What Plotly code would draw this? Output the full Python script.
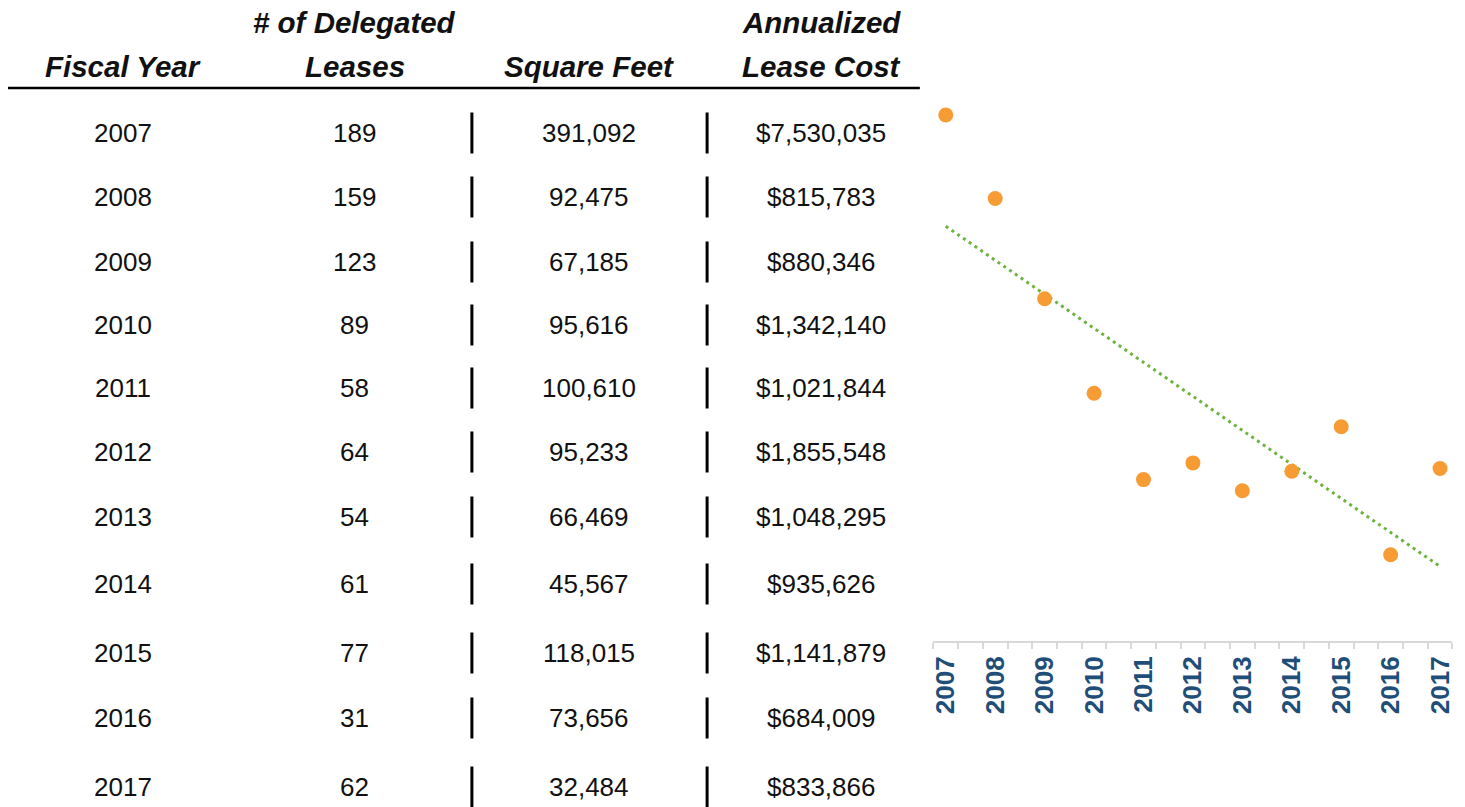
import numpy as np
import plotly.graph_objects as go

# ---- data ----
years = [2007, 2008, 2009, 2010, 2011, 2012, 2013, 2014, 2015, 2016, 2017]
leases = [189, 159, 123, 89, 58, 64, 54, 61, 77, 31, 62]
square_feet = [391092, 92475, 67185, 95616, 100610, 95233, 66469, 45567, 118015, 73656, 32484]
lease_cost = [7530035, 815783, 880346, 1342140, 1021844, 1855548, 1048295, 935626, 1141879, 684009, 833866]
header_line1 = ["", "# of Delegated", "", "Annualized"]
header_line2 = ["Fiscal Year", "Leases", "Square Feet", "Lease Cost"]

# ---- layout constants (target pixels in the 1465x807 window) ----
W, H = 1465, 807
col_x = [120, 353, 588, 821]
row_y = [133, 197, 262, 325, 388, 452, 517, 584, 653, 718, 787]
bar_x = [470.5, 706.5]
head_y1, head_y2 = 22, 66
rule_y = 88


def px(x):
    return x / W


def py(y):
    return 1 - y / H


body_font = dict(family="Liberation Sans, Arial", size=26, color="#111111")
head_font = dict(family="Liberation Sans, Arial", size=29.5, color="#111111",
                 weight="bold", style="italic")

annotations = []
shapes = []

for i, (t1, t2) in enumerate(zip(header_line1, header_line2)):
    if t1:
        annotations.append(dict(x=px(col_x[i]), y=py(head_y1), xref="paper", yref="paper", text=t1,
                                showarrow=False, font=head_font, xanchor="center", yanchor="middle"))
    annotations.append(dict(x=px(col_x[i]), y=py(head_y2), xref="paper", yref="paper", text=t2,
                            showarrow=False, font=head_font, xanchor="center", yanchor="middle"))

shapes.append(dict(type="line", xref="paper", yref="paper", x0=px(5), x1=px(920), y0=py(rule_y), y1=py(rule_y),
                   line=dict(color="#000000", width=2.5)))

for r, (yr, n, sf, c) in enumerate(zip(years, leases, square_feet, lease_cost)):
    cells = [str(yr), f"{n:,}", f"{sf:,}", f"${c:,}"]
    for i, txt in enumerate(cells):
        annotations.append(dict(x=px(col_x[i]), y=py(row_y[r]), xref="paper", yref="paper", text=txt,
                                showarrow=False, font=body_font, xanchor="center", yanchor="middle"))
    for bx in bar_x:
        shapes.append(dict(type="line", xref="paper", yref="paper", x0=px(bx), x1=px(bx),
                           y0=py(row_y[r] - 20.5), y1=py(row_y[r] + 20.5),
                           line=dict(color="#000000", width=3)))

# ---- trend line (linear least squares) ----
slope, intercept = np.polyfit(years, leases, 1)
trend_x = [years[0], years[-1]]
trend_y = [slope * x + intercept for x in trend_x]

fig = go.Figure()
fig.add_trace(go.Scatter(x=trend_x, y=trend_y, mode="lines",
                         line=dict(color="#6DB33F", width=3, dash="3px,4px"), hoverinfo="skip"))
fig.add_trace(go.Scatter(x=years, y=leases, mode="markers",
                         marker=dict(color="#F79C34", size=15, line=dict(width=0))))

minor_ticks = []
for yv in years:
    minor_ticks += [yv - 0.25, yv + 0.25]

fig.update_layout(
    width=W, height=H,
    margin=dict(l=0, r=0, t=0, b=0),
    paper_bgcolor="white", plot_bgcolor="white",
    showlegend=False,
    annotations=annotations,
    shapes=shapes,
    xaxis=dict(
        domain=[px(933.6), px(1454.4)],
        range=[years[0] - 0.25, years[-1] + 0.25],
        tickvals=years, ticktext=[str(y) for y in years],
        tickangle=-90,
        tickfont=dict(family="Liberation Sans, Arial", size=26, color="#1F4E79", weight="bold"),
        ticks="", ticklabelstandoff=3,
        showline=True, linecolor="#D9D9D9", linewidth=2,
        showgrid=False, zeroline=False,
        minor=dict(tickvals=minor_ticks, ticks="outside", ticklen=6, tickcolor="#D9D9D9", tickwidth=2,
                   showgrid=False),
    ),
    yaxis=dict(
        domain=[py(641), py(84.4)],
        range=[0, 200],
        showticklabels=False, showgrid=False, zeroline=False, showline=False, ticks="",
    ),
)

fig.write_html("out.html",
               config={"displayModeBar": False},
               post_script="document.body.style.margin='0';document.body.style.overflow='hidden';")
